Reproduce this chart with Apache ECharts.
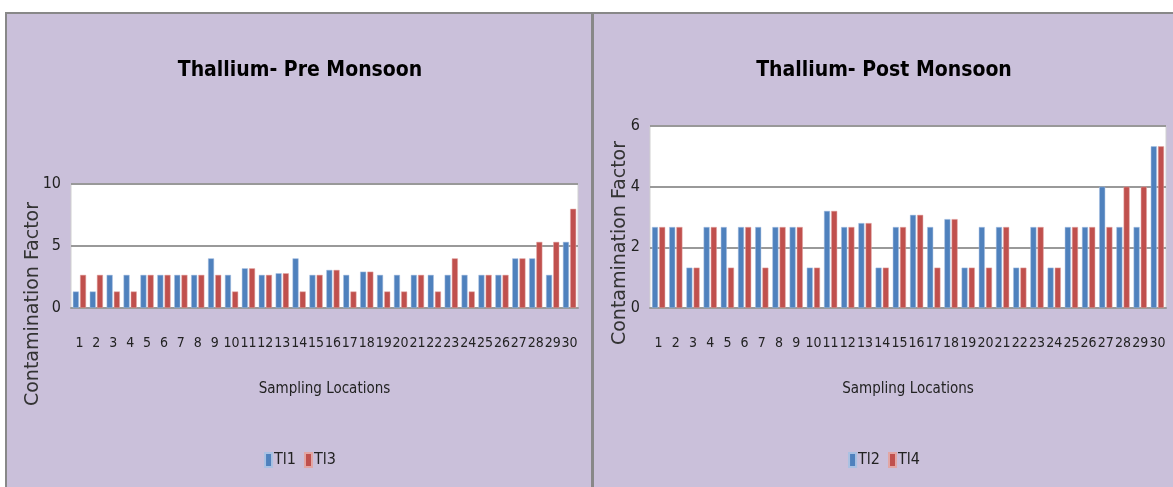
<!DOCTYPE html>
<html>
<head>
<meta charset="utf-8">
<script src="https://cdn.jsdelivr.net/npm/echarts@6/dist/echarts.min.js"></script>
<style>
    html, body { margin: 0; padding: 0; background: #fff; }
    body { width: 1173px; height: 487px; position: relative; overflow: hidden; }
    .panel { position: absolute; top: 12px; background: #cac0da; border-top: 2px solid #888; border-left: 2px solid #888; }
    #preChart { left: 5px; width: 586px; height: 473px; }
    #postChart { left: 591px; width: 580px; height: 473px; border-left: 3px solid #888; }
</style>
</head>
<body>
<div id="preChart" class="panel"></div>
<div id="postChart" class="panel"></div>
<script>
// 采样点 1-30
var locations = ['1', '2', '3', '4', '5', '6', '7', '8', '9', '10', '11', '12', '13', '14', '15',
    '16', '17', '18', '19', '20', '21', '22', '23', '24', '25', '26', '27', '28', '29', '30'];

// Pre Monsoon
var tl1 = [1.33, 1.33, 2.67, 2.67, 2.67, 2.67, 2.67, 2.67, 4, 2.67, 3.2, 2.67, 2.8, 4, 2.67,
    3.07, 2.67, 2.93, 2.67, 2.67, 2.67, 2.67, 2.67, 2.67, 2.67, 2.67, 4, 4, 2.67, 5.33];
var tl3 = [2.67, 2.67, 1.33, 1.33, 2.67, 2.67, 2.67, 2.67, 2.67, 1.33, 3.2, 2.67, 2.8, 1.33, 2.67,
    3.07, 1.33, 2.93, 1.33, 1.33, 2.67, 1.33, 4, 1.33, 2.67, 2.67, 4, 5.33, 5.33, 8];

// Post Monsoon
var tl2 = [2.67, 2.67, 1.33, 2.67, 2.67, 2.67, 2.67, 2.67, 2.67, 1.33, 3.2, 2.67, 2.8, 1.33, 2.67,
    3.07, 2.67, 2.93, 1.33, 2.67, 2.67, 1.33, 2.67, 1.33, 2.67, 2.67, 4, 2.67, 2.67, 5.33];
var tl4 = [2.67, 2.67, 1.33, 2.67, 1.33, 2.67, 1.33, 2.67, 2.67, 1.33, 3.2, 2.67, 2.8, 1.33, 2.67,
    3.07, 1.33, 2.93, 1.33, 1.33, 2.67, 1.33, 2.67, 1.33, 2.67, 2.67, 2.67, 4, 4, 5.33];

var preTicks = {max: 10, interval: 5};
var postTicks = {max: 6, interval: 2};

var narrow = "'Liberation Sans Narrow', 'DejaVu Sans Condensed', sans-serif";

function buildOption(cfg) {
    return {
        animation: false,
        title: {
            text: cfg.title,
            left: 'center',
            top: 41,
            textStyle: {fontFamily: narrow, fontSize: 21, fontWeight: 'bold', color: '#000'}
        },
        legend: {
            data: cfg.names,
            left: 'center',
            top: 433,
            icon: 'rect',
            itemWidth: 7,
            itemHeight: 14,
            itemGap: 8,
            textStyle: {fontFamily: narrow, fontSize: 16, color: '#222', padding: [0, 0, 0, -3]}
        },
        graphic: [{
            type: 'text',
            x: cfg.yNameX,
            y: cfg.yNameY,
            rotation: Math.PI / 2,
            style: {
                text: 'Contamination Factor',
                font: "19px 'DejaVu Sans', sans-serif",
                fill: '#333',
                align: 'center',
                verticalAlign: 'middle'
            }
        }],
        grid: {
            left: cfg.grid[0],
            top: cfg.grid[1],
            right: cfg.grid[2],
            bottom: cfg.grid[3],
            show: true,
            backgroundColor: '#fff',
            borderColor: '#d0d0d0',
            borderWidth: 1
        },
        xAxis: {
            type: 'category',
            data: locations,
            name: 'Sampling Locations',
            nameLocation: 'middle',
            nameGap: 74,
            nameTextStyle: {fontFamily: narrow, fontSize: 15, color: '#222'},
            axisLine: {lineStyle: {color: '#999', width: 2}},
            axisTick: {show: false},
            axisLabel: {fontFamily: narrow, fontSize: 14, color: '#222', margin: 28, interval: 0}
        },
        yAxis: {
            type: 'value',
            min: 0,
            max: cfg.ticks.max,
            interval: cfg.ticks.interval,
            axisLine: {show: false},
            axisTick: {show: false},
            axisLabel: {fontFamily: narrow, fontSize: 16, color: '#222', margin: 10},
            splitLine: {lineStyle: {color: '#999', width: 2}}
        },
        series: [
            {
                name: cfg.names[0],
                type: 'bar',
                data: cfg.data[0],
                barWidth: 6,
                barGap: '20%',
                itemStyle: {color: '#4f81bd', borderColor: '#a9c1e3', borderWidth: 0.5}
            },
            {
                name: cfg.names[1],
                type: 'bar',
                data: cfg.data[1],
                barWidth: 6,
                barGap: '20%',
                itemStyle: {color: '#c0504d', borderColor: '#e2a6a4', borderWidth: 0.5}
            }
        ]
    };
}

// 季风前
function initPreChart() {
    var chart = echarts.init(document.getElementById('preChart'));
    chart.setOption(buildOption({
        title: 'Thallium- Pre Monsoon',
        names: ['Tl1', 'Tl3'],
        data: [tl1, tl3],
        ticks: preTicks,
        grid: [64, 170, 15, 179],
        yNameX: 26,
        yNameY: 290
    }));
}

// 季风后
function initPostChart() {
    var chart = echarts.init(document.getElementById('postChart'));
    chart.setOption(buildOption({
        title: 'Thallium- Post Monsoon',
        names: ['Tl2', 'Tl4'],
        data: [tl2, tl4],
        ticks: postTicks,
        grid: [56, 112, 8, 179],
        yNameX: 26,
        yNameY: 229
    }));
}

initPreChart();
initPostChart();
</script>
</body>
</html>
